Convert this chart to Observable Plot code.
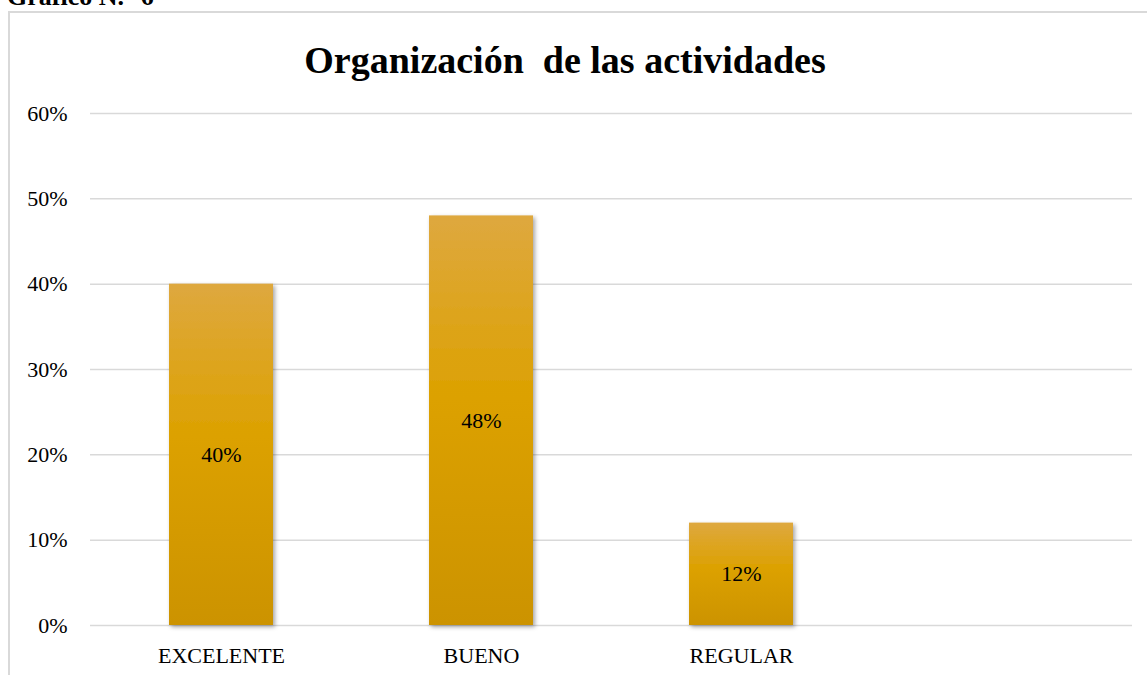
<!DOCTYPE html>
<html>
<head>
<meta charset="utf-8">
<script src="https://cdn.jsdelivr.net/npm/d3@7"></script>
<script src="https://cdn.jsdelivr.net/npm/@observablehq/plot@0.6"></script>
<style>
  html, body { margin: 0; padding: 0; background: #fff; overflow: hidden; }
  #wrap { position: relative; width: 1147px; height: 675px; }
  #frame { position: absolute; left: 8px; top: 11px; width: 1160px; height: 700px; border: 2px solid #d9d9d9; box-sizing: border-box; }
  #caption { position: absolute; left: 7px; top: -16px; font: bold 26px "Liberation Serif", "Times New Roman", serif; color: #000; white-space: pre; line-height: 1; }
  #title { position: absolute; left: 0; width: 1130px; top: 40px; text-align: center; font: bold 38px "Liberation Serif", "Times New Roman", serif; color: #000; white-space: pre; line-height: 1.1; }
  #chart { position: absolute; left: 0; top: 0; }
</style>
</head>
<body>
<div id="wrap">
  <div id="frame"></div>
  <div id="caption">Gráfico N.° 6</div>
  <div id="title">Organización  de las actividades</div>
  <div id="chart"></div>
</div>
<script>
const categories = ["EXCELENTE", "BUENO", "REGULAR", " "];
const values = [0.40, 0.48, 0.12, null];
const yTicks = [0, 0.1, 0.2, 0.3, 0.4, 0.5, 0.6];

const data = categories.map((c, i) => ({category: c, value: values[i]}));
const bars = data.filter(d => d.value != null);
const fmt = d3.format(".0%");
const serif = "'Liberation Serif', 'Times New Roman', serif";

const plot = Plot.plot({
  width: 1147,
  height: 675,
  marginLeft: 90,
  marginRight: 15,
  marginTop: 113,
  marginBottom: 50,
  style: {background: "transparent", overflow: "visible", color: "#000", fontFamily: serif, fontSize: "22px"},
  x: {domain: categories, paddingInner: 0.6, paddingOuter: 0.3, label: null, tickSize: 0, tickPadding: 22},
  y: {domain: [0, 0.6], ticks: yTicks, tickFormat: fmt, label: null, tickSize: 0, tickPadding: 23},
  marks: [
    Plot.ruleY(yTicks, {stroke: "#d9d9d9", strokeWidth: 1.5}),
    Plot.barY(bars, {x: "category", y: "value", fill: "url(#barGrad)"}),
    Plot.text(bars, {x: "category", y: d => d.value / 2, text: d => fmt(d.value), fill: "#000", fontSize: 22})
  ]
});

const svg = d3.select(plot);
svg.selectAll("g").style("font-family", serif).style("font-size", "22px");
svg.selectAll("text").style("font-family", serif).style("font-size", "22px");
const defs = svg.insert("defs", ":first-child");
const grad = defs.append("linearGradient").attr("id", "barGrad").attr("x1", 0).attr("y1", 0).attr("x2", 0).attr("y2", 1);
grad.append("stop").attr("offset", "0%").attr("stop-color", "#dea83f");
grad.append("stop").attr("offset", "45%").attr("stop-color", "#dca100");
grad.append("stop").attr("offset", "100%").attr("stop-color", "#cc9300");
const flt = defs.append("filter").attr("id", "shadow").attr("x", "-10%").attr("y", "-5%").attr("width", "130%").attr("height", "115%");
flt.append("feDropShadow").attr("dx", 2).attr("dy", 2).attr("stdDeviation", 2).attr("flood-color", "#000").attr("flood-opacity", 0.35);
svg.selectAll("g[aria-label='bar'] rect").attr("filter", "url(#shadow)");

document.getElementById("chart").appendChild(plot);
</script>
</body>
</html>
